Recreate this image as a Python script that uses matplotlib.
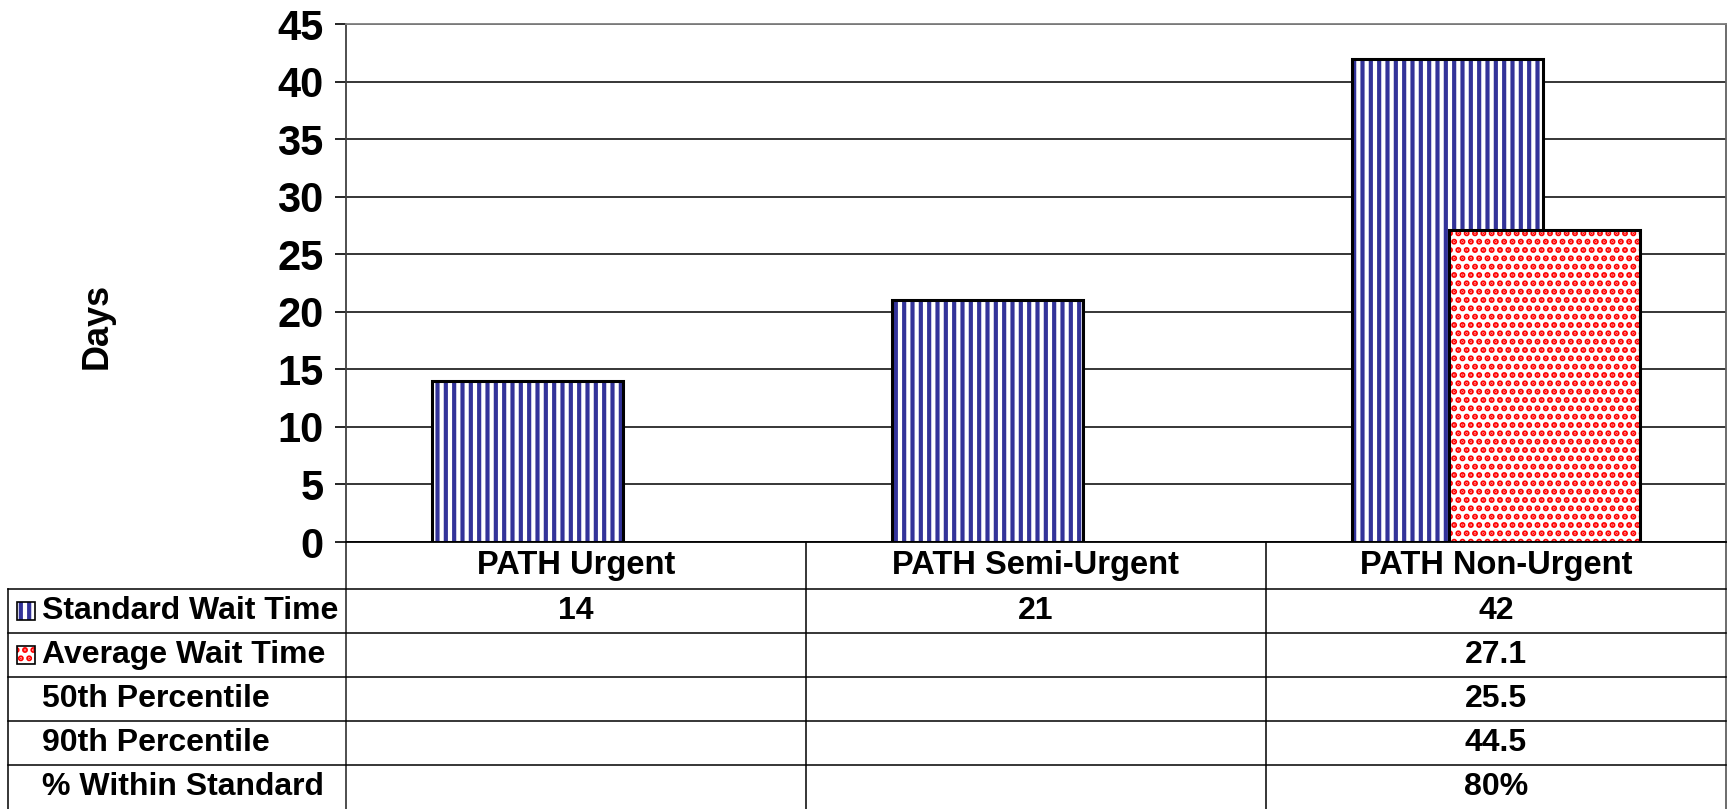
import matplotlib
matplotlib.use('Agg')
import matplotlib.pyplot as plt
from matplotlib.patches import Rectangle
from matplotlib.transforms import blended_transform_factory

# Chart data
categories = ['PATH Urgent', 'PATH Semi-Urgent', 'PATH Non-Urgent']
standard_wait = [14, 21, 42]
average_wait = [None, None, 27.1]

row_labels = ['Standard Wait Time', 'Average Wait Time', '50th Percentile',
              '90th Percentile', '% Within Standard']
row_values = [
    ['14', '21', '42'],
    ['', '', '27.1'],
    ['', '', '25.5'],
    ['', '', '44.5'],
    ['', '', '80%'],
]
y_ticks = [0, 5, 10, 15, 20, 25, 30, 35, 40, 45]

navy = '#333399'
red = '#FF0000'

plt.rcParams['font.family'] = ['Liberation Sans', 'DejaVu Sans']
plt.rcParams['font.weight'] = 'bold'
plt.rcParams['hatch.linewidth'] = 3.0

W, H = 1727, 809
fig = plt.figure(figsize=(W / 100, H / 100), dpi=100)
ax = fig.add_axes([346 / W, 1 - 542 / H, 1380 / W, 518 / H])

x = list(range(len(categories)))
bar_w = 0.415
off = 0.105

# standard wait bars (vertical stripes)
xs = [i - off for i in x]
ax.bar(xs, standard_wait, bar_w, color='white', edgecolor=navy, hatch='||',
       linewidth=0, zorder=3)
ax.bar(xs, standard_wait, bar_w, fill=False, edgecolor='black', linewidth=2.2, zorder=4)

# average wait bars (red dots)
xa = [i + off for i, v in zip(x, average_wait) if v is not None]
va = [v for v in average_wait if v is not None]
ax.bar(xa, va, bar_w, color='white', edgecolor=red, hatch='..',
       linewidth=0, zorder=5)
ax.bar(xa, va, bar_w, fill=False, edgecolor='black', linewidth=2.2, zorder=6)

ax.set_xlim(-0.5, len(categories) - 0.5)
ax.set_ylim(0, 45)
ax.set_yticks(y_ticks)
ax.set_xticks([])
ax.tick_params(axis='y', labelsize=30, length=8, width=1.2, pad=8)
for lab in ax.get_yticklabels():
    lab.set_fontweight('bold')
ax.grid(axis='y', color='black', linewidth=1.1, zorder=0)
ax.set_axisbelow(True)
for s in ['left', 'right', 'top', 'bottom']:
    ax.spines[s].set_linewidth(1.3)
ax.spines['top'].set_color('#808080')
ax.spines['right'].set_color('#606060')
ax.spines['left'].set_color('#404040')

fig.text(97 / W, 1 - 326 / H, 'Days', rotation=90, ha='center', va='center',
         fontsize=26, fontweight='bold')

# data table under the plot
header_h = 47 / 518
row_h = 44 / 518
left_fig = 8 / W
t_data = blended_transform_factory(ax.transData, ax.transAxes)
t_axes = ax.transAxes
t_mix = blended_transform_factory(fig.transFigure, ax.transAxes)
line_kw = dict(color='black', linewidth=1.1, clip_on=False)

bottom = -header_h - row_h * len(row_labels)
# vertical lines
for b in [0.5, 1.5]:
    ax.plot([b, b], [0, bottom], transform=t_data, **line_kw)
ax.plot([0, 0], [0, bottom], transform=t_axes, color='#404040', linewidth=1.3, clip_on=False)
ax.plot([1, 1], [0, bottom], transform=t_axes, color='#606060', linewidth=1.3, clip_on=False)
ax.plot([left_fig, left_fig], [-header_h, bottom], transform=t_mix, **line_kw)

# horizontal lines
ax_right_fig = (346 + 1380) / W
for r in range(len(row_labels)):
    y = -header_h - r * row_h
    ax.plot([left_fig, ax_right_fig], [y, y], transform=t_mix, **line_kw)

# header text
for i, c in enumerate(categories):
    ax.text(i, -header_h / 2, c, transform=t_data, ha='center', va='center',
            fontsize=23.5, fontweight='bold')

# rows
for r, (lab, vals) in enumerate(zip(row_labels, row_values)):
    yc = -header_h - (r + 0.5) * row_h
    ax.text(42 / W, yc, lab, transform=t_mix, ha='left', va='center',
            fontsize=23, fontweight='bold')
    for i, v in enumerate(vals):
        ax.text(i, yc, v, transform=t_data, ha='center', va='center',
                fontsize=23, fontweight='bold')

# legend keys
key_w = 18 / W
key_h = 18 / 518
for r, (col, hatch) in enumerate([(navy, '||'), (red, '..')]):
    yc = -header_h - (r + 0.5) * row_h
    ax.add_patch(Rectangle((17 / W, yc - key_h / 2), key_w, key_h, transform=t_mix,
                           facecolor='white', edgecolor=col, hatch=hatch,
                           linewidth=0, clip_on=False))
    ax.add_patch(Rectangle((17 / W, yc - key_h / 2), key_w, key_h, transform=t_mix,
                           fill=False, edgecolor='black', linewidth=1.2, clip_on=False))

fig.savefig('out.png', dpi=100)
